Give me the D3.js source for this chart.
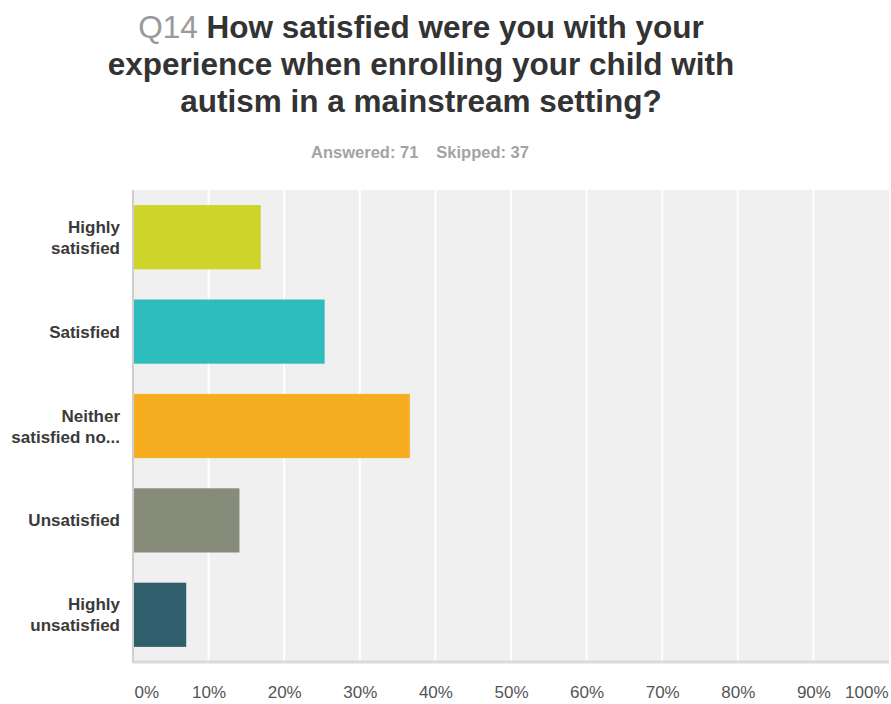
<!DOCTYPE html>
<html>
<head>
<meta charset="utf-8">
<script src="https://cdn.jsdelivr.net/npm/d3@7"></script>
<style>
  html, body { margin: 0; padding: 0; background: #fff; }
  svg { display: block; font-family: "Liberation Sans", Arial, Helvetica, sans-serif; }
</style>
</head>
<body>
<svg id="chart" width="891" height="704"></svg>
<script>
// Q14 responses: share of respondents (%) per answer choice
const categories = [
  ["Highly", "satisfied"],
  ["Satisfied"],
  ["Neither", "satisfied no..."],
  ["Unsatisfied"],
  ["Highly", "unsatisfied"]
];
const percentages = [16.90, 25.35, 36.62, 14.08, 7.04];
const barColors = ["#cfd42a", "#2fbcbd", "#f6ae20", "#878b7a", "#2f5f6c"];
const tickValues = [0, 10, 20, 30, 40, 50, 60, 70, 80, 90, 100];
const tickLabels = ["0%", "10%", "20%", "30%", "40%", "50%", "60%", "70%", "80%", "90%", "100%"];
const titleLines = [
  ["Q14", " How satisfied were you with your"],
  ["", "experience when enrolling your child with"],
  ["", "autism in a mainstream setting?"]
];
const answeredText = "Answered: 71";
const skippedText = "Skipped: 37";

const svg = d3.select("#chart");
const plot = { left: 133, right: 889, top: 190, bottom: 662 };

// Title
const title = svg.append("g").attr("font-weight", "bold").attr("font-size", 31.5)
  .attr("text-anchor", "middle");
titleLines.forEach((ln, i) => {
  const t = title.append("text").attr("x", 421).attr("y", 38 + i * 37);
  if (ln[0]) t.append("tspan").attr("fill", "#9a9a9a").attr("font-weight", "normal").text(ln[0]);
  t.append("tspan").attr("fill", "#333333").text(ln[1]);
});

// Answered / skipped summary
const sub = svg.append("text").attr("x", 420).attr("y", 158)
  .attr("text-anchor", "middle").attr("font-size", 16.5).attr("font-weight", "bold")
  .attr("fill", "#a3a3a3");
sub.append("tspan").text(answeredText);
sub.append("tspan").attr("dx", 18).text(skippedText);

// Scales
const x = d3.scaleLinear().domain([0, 100]).range([plot.left, plot.right]);
const y = d3.scaleBand().domain(d3.range(categories.length))
  .range([plot.top, plot.bottom]).paddingInner(0.32).paddingOuter(0.16);

// Plot background
svg.append("rect")
  .attr("x", plot.left).attr("y", plot.top)
  .attr("width", plot.right - plot.left).attr("height", plot.bottom - plot.top)
  .attr("fill", "#f0f0f0");

// Vertical gridlines
svg.append("g").selectAll("line")
  .data(tickValues.filter(v => v > 0 && v < 100))
  .join("line")
  .attr("x1", d => x(d)).attr("x2", d => x(d))
  .attr("y1", plot.top).attr("y2", plot.bottom)
  .attr("stroke", "#ffffff").attr("stroke-width", 2);

// Left and bottom edges of the plot
svg.append("line").attr("x1", plot.left).attr("x2", plot.left)
  .attr("y1", plot.top).attr("y2", plot.bottom + 1)
  .attr("stroke", "#cfcfcf").attr("stroke-width", 2);
svg.append("line").attr("x1", plot.left).attr("x2", plot.right)
  .attr("y1", plot.bottom).attr("y2", plot.bottom)
  .attr("stroke", "#dadada").attr("stroke-width", 3);

// Bars
svg.append("g").selectAll("rect")
  .data(percentages)
  .join("rect")
  .attr("x", x(0) + 1)
  .attr("y", (d, i) => y(i))
  .attr("width", d => x(d) - x(0) - 1)
  .attr("height", y.bandwidth())
  .attr("fill", (d, i) => barColors[i]);

// Category labels
const catG = svg.append("g").attr("font-size", 17).attr("font-weight", "bold")
  .attr("fill", "#3a3a3a").attr("text-anchor", "end");
categories.forEach((lines, i) => {
  const cy = y(i) + y.bandwidth() / 2;
  const lh = 21;
  const t = catG.append("text").attr("x", 120)
    .attr("y", cy - (lines.length - 1) * lh / 2 + 6);
  lines.forEach((s, j) => t.append("tspan").attr("x", 120).attr("dy", j === 0 ? 0 : lh).text(s));
});

// X axis tick labels
const xAxis = d3.axisBottom(x).tickValues(tickValues)
  .tickFormat((d, i) => tickLabels[i]).tickSize(0).tickPadding(0);
const ax = svg.append("g").attr("transform", `translate(0, ${plot.bottom + 24})`).call(xAxis);
ax.select(".domain").remove();
ax.selectAll("text")
  .attr("font-size", 17).attr("fill", "#555555")
  .attr("font-family", "'Liberation Sans', Arial, sans-serif")
  .attr("text-anchor", (d, i) => i === 0 ? "start" : (i === tickValues.length - 1 ? "end" : "middle"))
  .attr("dx", (d, i) => i === 0 ? 1 : (i === tickValues.length - 1 ? -1 : 0));
</script>
</body>
</html>
